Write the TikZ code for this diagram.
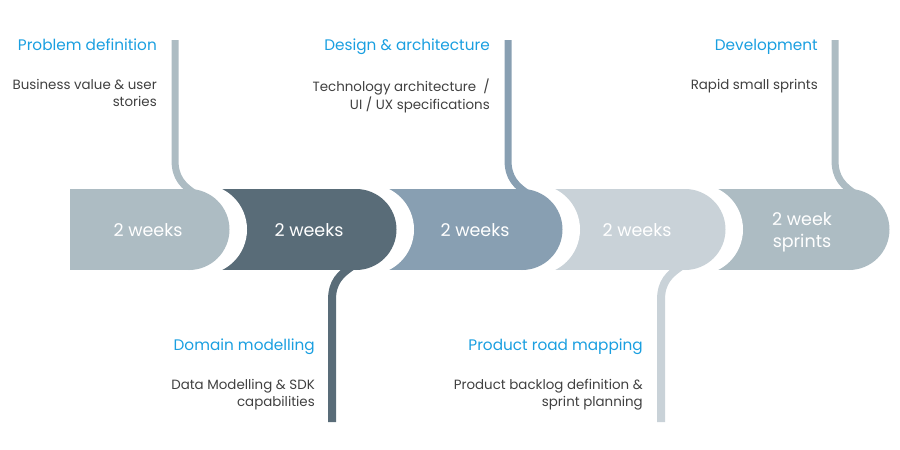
\documentclass[tikz,border=0pt]{standalone}
\usepackage{fontspec}
\setmainfont{Poppins}
\definecolor{phaseA}{HTML}{ADBCC3}
\definecolor{phaseB}{HTML}{596C78}
\definecolor{phaseC}{HTML}{889FB2}
\definecolor{phaseD}{HTML}{C9D2D8}
\definecolor{titleblue}{HTML}{1A9FE0}
\definecolor{bodygrey}{HTML}{404040}

% one bar segment: left edge, centre of the rounded end, colour
\newcommand{\phasebar}[3]{%
  \fill[#3] (#1,189) rectangle (#2,270);
  \fill[#3] (#2,229.5) circle[radius=40.5pt];}
% white gap cut out of the following segment
\newcommand{\phasegap}[1]{%
  \begin{scope}
    \clip (0,189) rectangle (900,270);
    \fill[white] (#1+12.7,229.5) circle[radius=45.3pt];
  \end{scope}}
% stem rising from the top of a segment
\newcommand{\topstem}[3]{% name, centre, colour
  \coordinate (#1-end) at (#2-14,40);
  \coordinate (#1-join) at (#2+8,195);
  \draw[stem, #3] (#1-end) -- (#2-14,160)
    .. controls (#2-14,178) and (#2-6,186) .. (#1-join);}
% stem hanging from the bottom of a segment
\newcommand{\bottomstem}[3]{% name, centre, colour
  \coordinate (#1-end) at (#2-24,422);
  \coordinate (#1-join) at (#2-2,265);
  \draw[stem, line width=8pt, #3] (#1-end) -- (#2-24,300)
    .. controls (#2-24,282) and (#2-16,274) .. (#1-join);}

\begin{document}
\begin{tikzpicture}[x=1pt,y=-1pt,
  stem/.style={line width=7pt},
  weeks/.style={text=white, font=\fontsize{17.5}{22}\selectfont, align=center, inner sep=0},
  title/.style={text=titleblue, font=\fontsize{15.3}{17}\selectfont, anchor=base east, inner sep=0},
  body/.style={text=bodygrey, font=\fontsize{13.4}{17.5}\selectfont, anchor=north east, align=right, inner sep=0}]
\useasboundingbox (0,0) rectangle (900,450);

% segments, drawn from the last to the first
\phasebar{685}{849}{phaseA}
\topstem{s5}{849}{phaseA}
\phasegap{685}
\phasebar{522}{685}{phaseD}
\bottomstem{s4}{685}{phaseD}
\phasegap{522}
\phasebar{356}{522}{phaseC}
\topstem{s3}{522}{phaseC}
\phasegap{356}
\phasebar{189}{356}{phaseB}
\bottomstem{s2}{356}{phaseB}
\phasegap{189}
\phasebar{70}{189}{phaseA}
\topstem{s1}{189}{phaseA}

% durations
\node[weeks] (w1) at (148,230) {2 weeks};
\node[weeks] (w2) at (309,230) {2 weeks};
\node[weeks] (w3) at (475,230) {2 weeks};
\node[weeks] (w4) at (637,230) {2 weeks};
\node[weeks] (w5) at (802,232) {2 week\\sprints};

% phase descriptions
\node[title] (t1) at (157,50) {Problem definition};
\node[body]  (b1) at (157,79) {Business value \& user\\stories};
\node[title] (t3) at (490,50) {Design \& architecture};
\node[body]  (b3) at (490,79) {Technology architecture~~/\\UI / UX specifications};
\node[title] (t5) at (818,50) {Development};
\node[body]  (b5) at (818,79) {Rapid small sprints};
\node[title] (t2) at (315,350) {Domain modelling};
\node[body]  (b2) at (315,379) {Data Modelling \& SDK\\capabilities};
\node[title] (t4) at (643,350) {Product road mapping};
\node[body]  (b4) at (643,379) {Product backlog definition \&\\sprint planning};
\end{tikzpicture}
\end{document}
